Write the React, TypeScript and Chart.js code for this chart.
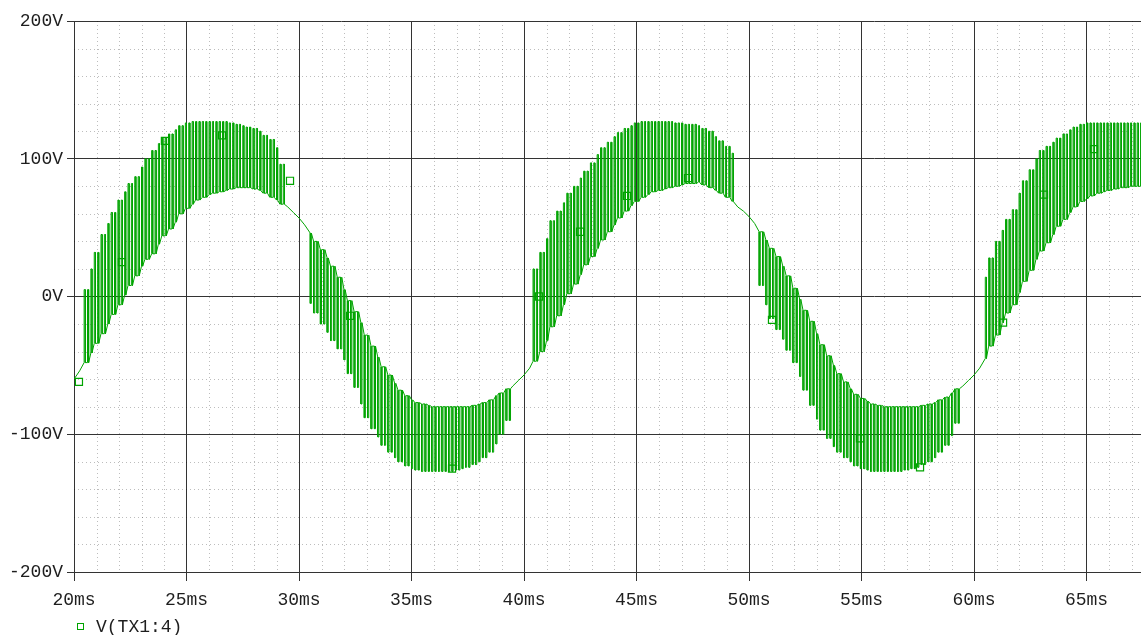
import { useEffect, useRef } from "react";
import { Chart, registerables } from "chart.js";

Chart.register(...registerables);

// ---- data ----
const seriesLabel = "V(TX1:4)";
const sampleStartMs = 20;
const sampleStepMs = 0.25;

// upper edge of the trace at each 0.25 ms sample (V); equal to lower where the trace is a single line
const upperVolts = [
  -60, -54,
  5, 20, 32, 45, 53, 61, 70, 76, 82, 87, 94, 100, 106, 111, 115, 118, 121, 124, 126, 127, 127, 127, 127, 127, 127, 127, 126, 125, 124, 123, 122, 120, 117, 114, 108, 96,
  65, 61, 57, 52,
  46, 40, 34, 28, 22, 14, 5, -3, -11, -19, -28, -36, -44, -51, -57, -63, -68, -72, -75, -77, -78, -79, -80, -80, -80, -80, -80, -80, -80, -79, -78, -77, -75, -72, -70, -67,
  -65, -61, -57, -52,
  20, 32, 42, 55, 62, 68, 75, 80, 86, 91, 97, 103, 108, 112, 116, 119, 122, 124, 126, 127, 127, 127, 127, 127, 127, 126, 126, 125, 125, 124, 122, 120, 116, 113, 109, 104,
  65, 62, 58, 53,
  47, 41, 35, 29, 22, 15, 6, -2, -10, -18, -27, -35, -43, -50, -56, -62, -67, -71, -74, -76, -78, -79, -80, -80, -80, -80, -80, -80, -80, -79, -78, -77, -75, -73, -70, -67,
  -65, -61, -57, -52,
  14, 28, 40, 48, 56, 63, 75, 84, 92, 100, 106, 109, 112, 115, 118, 121, 123, 125, 126, 126, 126, 126, 126, 126, 126, 126, 126, 126, 126,
];

// lower edge of the trace at each 0.25 ms sample (V)
const lowerVolts = [
  -60, -54,
  -48, -41, -34, -27, -20, -13, -6, 1, 8, 15, 22, 27, 31, 38, 44, 49, 54, 60, 64, 67, 70, 72, 74, 75, 76, 77, 78, 79, 79, 79, 78, 77, 75, 72, 70, 67,
  65, 61, 57, 52,
  -5, -12, -20, -26, -32, -38, -46, -56, -66, -78, -88, -96, -102, -108, -113, -117, -120, -123, -125, -126, -127, -127, -127, -127, -127, -127, -126, -125, -124, -122, -120, -117, -113, -107, -100, -90,
  -65, -61, -57, -52,
  -47, -40, -32, -22, -14, -6, 2, 9, 16, 23, 29, 35, 41, 47, 52, 57, 62, 66, 69, 72, 74, 76, 77, 78, 79, 80, 81, 82, 82, 83, 81, 79, 77, 75, 72, 69,
  65, 62, 58, 53,
  8, -6, -16, -24, -31, -39, -48, -58, -68, -79, -89, -97, -103, -109, -113, -117, -120, -123, -125, -126, -127, -127, -127, -127, -127, -127, -126, -125, -124, -122, -120, -117, -113, -108, -101, -92,
  -65, -61, -57, -52,
  -45, -36, -28, -19, -12, -6, 3, 11, 19, 27, 33, 39, 45, 51, 56, 61, 65, 69, 71, 73, 75, 76, 77, 78, 79, 79, 80, 80, 80,
];

// switching ripple of the trace
const carrierPeriodMs = 0.15;
const pulseWidthMs = 0.05;

// trace markers
const markerTimesMs = [20.22, 22.13, 24.04, 26.58, 29.6, 32.27, 36.8, 40.67, 42.49, 44.58, 47.29, 51.02, 54.93, 57.6, 61.29, 63.11, 65.33];
const markerVolts = [-62, 25, 113, 117, 84, -14, -125, 0, 47, 73, 86, -17, -103, -124, -19, 74, 107];

const xTickValues = [20, 25, 30, 35, 40, 45, 50, 55, 60, 65];
const yTickValues = [-200, -100, 0, 100, 200];
const xMinorValues = [21, 22, 23, 24, 26, 27, 28, 29, 31, 32, 33, 34, 36, 37, 38, 39, 41, 42, 43, 44, 46, 47, 48, 49, 51, 52, 53, 54, 56, 57, 58, 59, 61, 62, 63, 64, 66, 67];
const yMinorValues = [-180, -160, -140, -120, -80, -60, -40, -20, 20, 40, 60, 80, 120, 140, 160, 180];

const xMin = 20;
const xMax = 67.42;
const yMin = -200;
const yMax = 200;

const TRACE = "#00a400";
const GRID = "#333333";
const TEXT = "#1e1e1e";
const FONT_FAMILY = "'Liberation Mono', 'DejaVu Sans Mono', monospace";

function buildTrace() {
  const pts: { x: number; y: number }[] = [];
  let spikesUp = true;
  const half = sampleStepMs / 2;
  for (let i = 0; i < upperVolts.length; i++) {
    const t = sampleStartMs + i * sampleStepMs;
    const hi = upperVolts[i];
    const lo = lowerVolts[i];
    if (hi === lo) {
      pts.push({ x: t, y: lo });
      spikesUp = lo < 0;
      continue;
    }
    const base = spikesUp ? lo : hi;
    const peak = spikesUp ? hi : lo;
    let k = Math.ceil((t - half - sampleStartMs) / carrierPeriodMs - 1e-9);
    for (;; k++) {
      const tk = sampleStartMs + k * carrierPeriodMs;
      if (tk >= t + half - 1e-9) break;
      pts.push({ x: tk, y: base });
      pts.push({ x: tk, y: peak });
      pts.push({ x: tk + pulseWidthMs, y: peak });
      pts.push({ x: tk + pulseWidthMs, y: base });
    }
  }
  return pts;
}

const minorGridPlugin = {
  id: "minorGrid",
  beforeDatasetsDraw(chart: any) {
    const { ctx, chartArea, scales } = chart;
    ctx.save();
    ctx.strokeStyle = "rgba(0,0,0,0.26)";
    ctx.lineWidth = 1;
    ctx.setLineDash([1, 3]);
    for (const v of xMinorValues) {
      const x = Math.round(scales.x.getPixelForValue(v)) + 0.5;
      ctx.beginPath();
      ctx.moveTo(x, chartArea.top);
      ctx.lineTo(x, chartArea.bottom);
      ctx.stroke();
    }
    for (const v of yMinorValues) {
      const y = Math.round(scales.y.getPixelForValue(v)) + 0.5;
      ctx.beginPath();
      ctx.moveTo(chartArea.left, y);
      ctx.lineTo(chartArea.right, y);
      ctx.stroke();
    }
    ctx.restore();
  },
};

const legendPlugin = {
  id: "bottomLegend",
  afterDraw(chart: any) {
    const { ctx } = chart;
    ctx.save();
    ctx.setLineDash([]);
    ctx.strokeStyle = TRACE;
    ctx.lineWidth = 1;
    ctx.strokeRect(77.5, 623.5, 6, 6);
    ctx.fillStyle = TEXT;
    ctx.font = `18px ${FONT_FAMILY}`;
    ctx.textBaseline = "middle";
    ctx.textAlign = "left";
    ctx.fillText(chart.data.datasets[0].label, 96, 627);
    ctx.restore();
  },
};

export default function App() {
  const canvasRef = useRef<HTMLCanvasElement | null>(null);

  useEffect(() => {
    document.body.style.margin = "0";
    document.body.style.overflow = "hidden";
    const canvas = canvasRef.current;
    if (!canvas) return;
    const font = { family: FONT_FAMILY, size: 18 };
    const chart = new Chart(canvas, {
      type: "line",
      data: {
        datasets: [
          {
            label: seriesLabel,
            data: buildTrace(),
            borderColor: TRACE,
            borderWidth: 1,
            pointRadius: 0,
            tension: 0,
            fill: false,
          },
          {
            label: "markers",
            data: markerTimesMs.map((t, i) => ({ x: t, y: markerVolts[i] })),
            showLine: false,
            pointStyle: "rect",
            pointRadius: 5,
            pointBorderWidth: 1.2,
            pointBorderColor: TRACE,
            pointBackgroundColor: "rgba(0,0,0,0)",
          },
        ],
      },
      options: {
        responsive: false,
        animation: false,
        events: [],
        layout: { autoPadding: false, padding: { top: 21, right: 0, bottom: 0, left: 0 } },
        plugins: { legend: { display: false }, tooltip: { enabled: false } },
        scales: {
          x: {
            type: "linear",
            min: xMin,
            max: xMax,
            afterBuildTicks: (s: any) => {
              s.ticks = xTickValues.map((v) => ({ value: v }));
            },
            afterFit: (s: any) => {
              s.height = 63;
              s.paddingRight = 0;
              s.paddingLeft = 0;
            },
            grid: { color: GRID, lineWidth: 1, tickLength: 9, tickColor: GRID },
            border: { color: GRID, width: 1 },
            ticks: {
              callback: (v: any) => `${v}ms`,
              color: TEXT,
              font,
              padding: 8,
              maxRotation: 0,
              autoSkip: false,
            },
          },
          y: {
            type: "linear",
            min: yMin,
            max: yMax,
            afterBuildTicks: (s: any) => {
              s.ticks = yTickValues.map((v) => ({ value: v }));
            },
            afterFit: (s: any) => {
              s.width = 74;
            },
            grid: { color: GRID, lineWidth: 1, tickLength: 7, tickColor: GRID },
            border: { color: GRID, width: 1 },
            ticks: {
              callback: (v: any) => `${v}V`,
              color: TEXT,
              font,
              padding: 4,
              autoSkip: false,
            },
          },
        },
      },
      plugins: [minorGridPlugin, legendPlugin],
    });
    return () => chart.destroy();
  }, []);

  return (
    <canvas
      ref={canvasRef}
      width={1141}
      height={635}
      style={{ display: "block", width: 1141, height: 635 }}
    />
  );
}
